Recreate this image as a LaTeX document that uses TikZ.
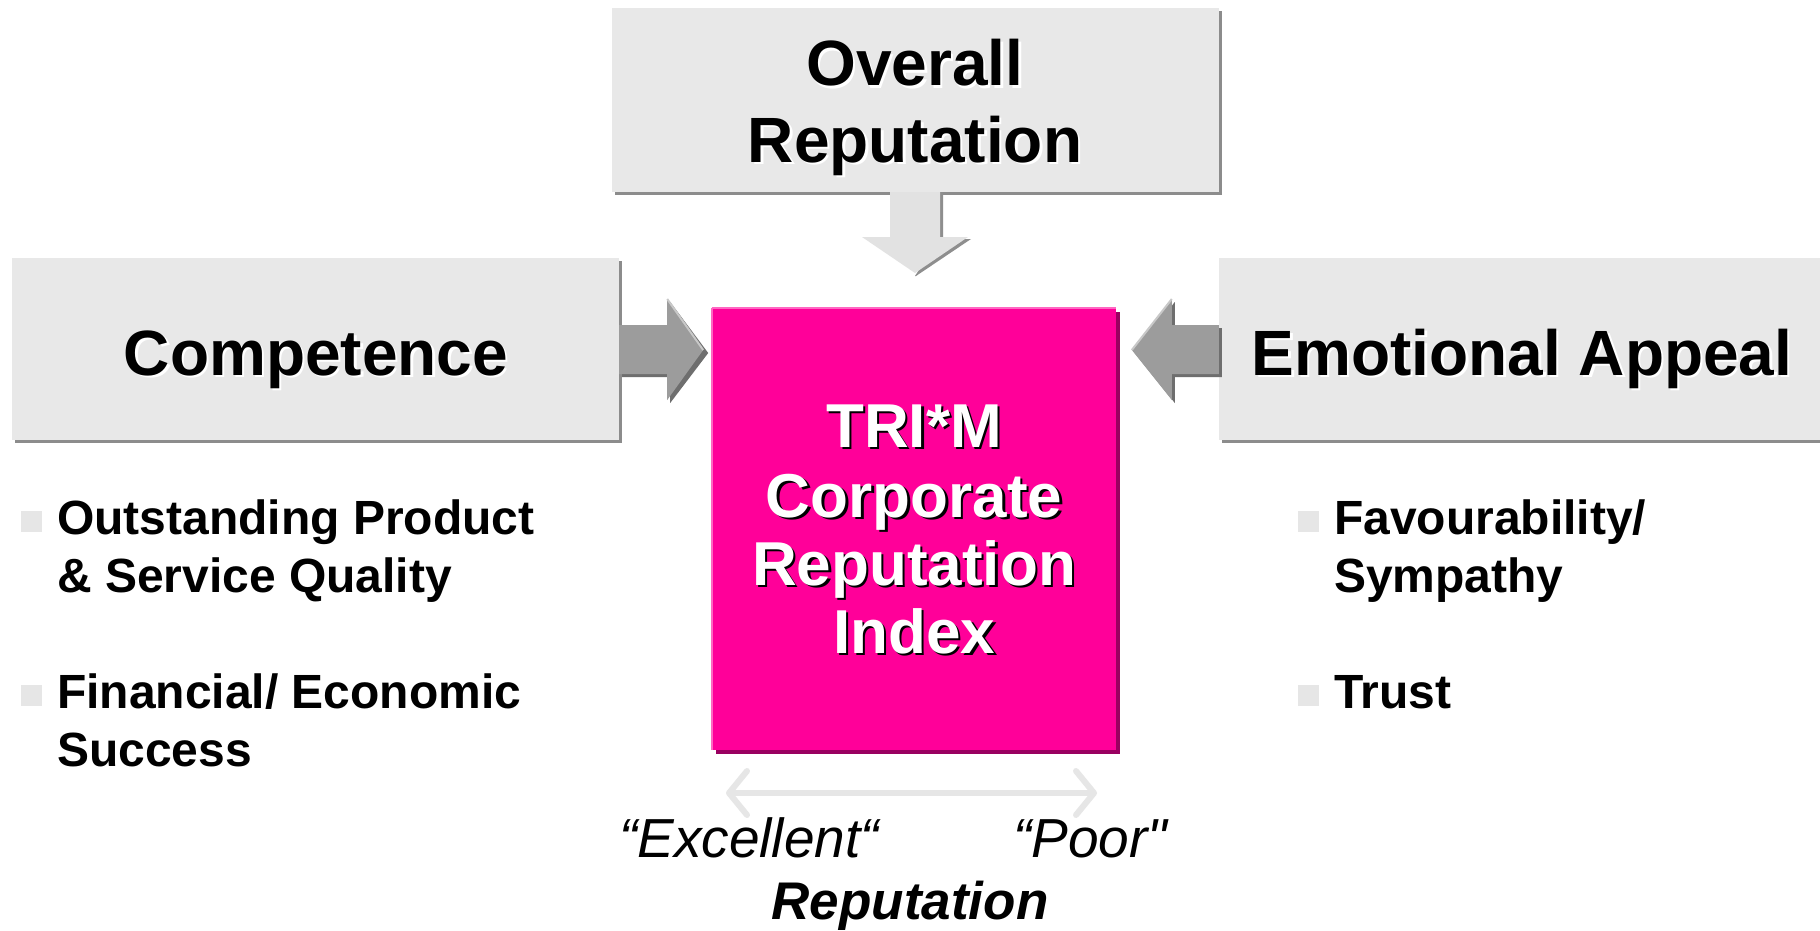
\documentclass[tikz,border=0pt]{standalone}
\usepackage{fontspec}
\setmainfont{Liberation Sans}
\usetikzlibrary{calc,arrows.meta,shadows}
\definecolor{boxgray}{HTML}{E8E8E8}
\definecolor{boxshadow}{HTML}{8C8C8C}
\definecolor{trimpink}{HTML}{FF0099}
\definecolor{pinkshadow}{HTML}{990060}
\definecolor{pinklight}{HTML}{FF66C2}
\definecolor{arrgray}{HTML}{9C9C9C}
\definecolor{arrshadow}{HTML}{6E6E6E}
\definecolor{arrlight}{HTML}{C8C8C8}
\definecolor{downfill}{HTML}{E2E2E2}
\definecolor{downshadow}{HTML}{8E8E8E}
\definecolor{bulgray}{HTML}{E6E6E6}
\newcommand{\shtext}[6]{%
  \node[#3,text=#5] at ($#2+(2.5,2.5)$) {#6};
  \node[#3,text=#4] (#1) at #2 {#6};}
\newcommand{\straightq}{\XeTeXglyph\XeTeXcharglyph"22\relax}
\begin{document}
\begin{tikzpicture}[x=1pt,y=-1pt,
  gbox/.style={rectangle, fill=boxgray, draw=none, inner sep=0pt,
    drop shadow={shadow xshift=3pt, shadow yshift=-3pt, fill=boxshadow, opacity=1}},
  pbox/.style={rectangle, fill=trimpink, draw=none, inner sep=0pt,
    drop shadow={shadow xshift=4pt, shadow yshift=-4pt, fill=pinkshadow, opacity=1}},
  hd/.style={font=\fontsize{64}{70}\selectfont\bfseries, inner sep=0pt, anchor=base},
  pt/.style={font=\fontsize{62}{68}\selectfont\bfseries, inner sep=0pt, anchor=base},
  bt/.style={font=\fontsize{48}{54}\selectfont\bfseries, inner sep=0pt, anchor=base west, text=black},
  bsq/.style={rectangle, fill=bulgray, draw=none, minimum size=21pt, inner sep=0pt},
  it/.style={font=\fontsize{55}{60}\selectfont\itshape, inner sep=0pt, anchor=base west, text=black},
  dbl/.style={draw=bulgray, line width=6pt, {Straight Barb[length=18pt,width=44pt,round]}-{Straight Barb[length=18pt,width=44pt,round]}}
]
\useasboundingbox (0,0) rectangle (1820,931);
\fill[white] (0,0) rectangle (1820,931);

% boxes
\node[gbox, minimum width=607pt, minimum height=183pt] (top) at (915.5,100) {};
\node[gbox, minimum width=607pt, minimum height=182pt] (comp) at (315.5,349) {};
\node[gbox, minimum width=620pt, minimum height=182pt] (emo) at (1529,349) {};
\node[pbox, minimum width=404pt, minimum height=442pt] (trim) at (914,529) {};
\draw[pinklight, line width=2pt] (trim.north west) -- (trim.north east);
\draw[pinklight, line width=1.5pt] (trim.north west) -- (trim.south west);

% box texts
\shtext{ov1}{(915,86)}{hd}{black}{white}{Overall}
\shtext{ov2}{(915,162)}{hd}{black}{white}{Reputation}
\shtext{ct}{(316,375)}{hd}{black}{white}{Competence}
\shtext{et}{(1522,375)}{hd}{black}{white}{Emotional Appeal}
\shtext{p1}{(914,447)}{pt}{white}{black}{TRI*M}
\shtext{p2}{(914,517)}{pt}{white}{black}{Corporate}
\shtext{p3}{(914,585)}{pt}{white}{black}{Reputation}
\shtext{p4}{(914,653)}{pt}{white}{black}{Index}

% down arrow
\fill[downshadow] (893,192) -- (943,192) -- (943,239) -- (971,239) -- (916,276) -- (915,276) -- (940,237) -- (940,192) -- cycle;
\fill[downfill] (890,192) -- (940,192) -- (940,237) -- (968,237) -- (915,273) -- (862,237) -- (890,237) -- cycle;

% right-pointing arrow (Competence -> index)
\fill[arrshadow] (comp.east) ++(3,-21) -- ++(48,0) -- ++(0,-26) -- ++(38,51) -- ++(-38,50) -- ++(0,-26) -- ++(-48,0) -- cycle;
\fill[arrgray] ($(comp.east)+(0,-24)$) -- ++(48,0) -- ++(0,-26) -- ++(36,51) -- ++(-36,50) -- ++(0,-26) -- ++(-48,0) -- cycle;
\draw[arrlight, line width=2pt] ($(comp.east)+(48,-50)$) -- ++(36,51);

% left-pointing arrow (Emotional Appeal -> index)
\fill[arrshadow] (emo.west) ++(3,-21) -- ++(-47,0) -- ++(0,-26) -- ++(-40,51) -- ++(40,50) -- ++(0,-26) -- ++(47,0) -- cycle;
\fill[arrgray] ($(emo.west)+(0,-24)$) -- ++(-47,0) -- ++(0,-26) -- ++(-40,51) -- ++(40,50) -- ++(0,-26) -- ++(47,0) -- cycle;
\draw[arrlight, line width=2pt] ($(emo.west)+(-47,-50)$) -- ++(-40,51);

% bullets left
\node[bsq] (bq1) at (31,521) {};
\node[bt] (l1) at (57,534) {Outstanding Product};
\node[bt] (l2) at (57,592) {\& Service Quality};
\node[bsq] (bq2) at (31,695) {};
\node[bt] (l3) at (57,708) {Financial/ Economic};
\node[bt] (l4) at (57,766) {Success};

% bullets right
\node[bsq] (bq3) at (1308,521) {};
\node[bt] (r1) at (1334,534) {Favourability/};
\node[bt] (r2) at (1334,592) {Sympathy};
\node[bsq] (bq4) at (1308,695) {};
\node[bt] (r3) at (1334,708) {Trust};

% scale
\coordinate (sl) at (726,793);
\coordinate (sr) at (1097,793);
\draw[dbl] (sl) -- (sr);
\node[it] (exc) at (619,857) {“Excellent“};
\node[it] (poor) at (1013,857) {“Poor\straightq};
\node[font=\fontsize{53}{58}\selectfont\bfseries\itshape, inner sep=0pt, anchor=base] (rep) at (910,919) {Reputation};
\end{tikzpicture}
\end{document}
